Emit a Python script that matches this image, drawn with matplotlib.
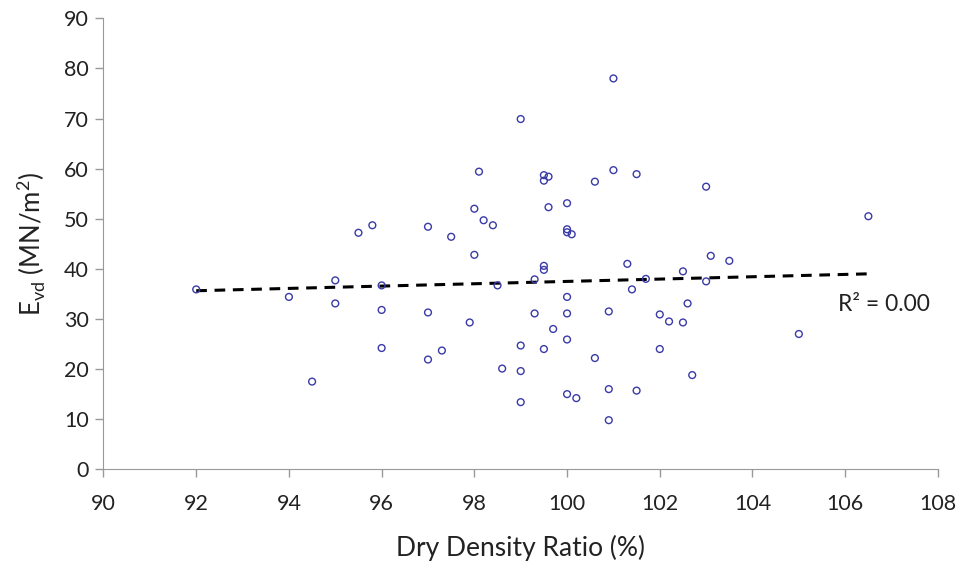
import numpy as np
import matplotlib
matplotlib.use("Agg")
from matplotlib import pyplot as plt

# Dry density ratio (%) and E_vd (MN/m2)
dry_density = [92.0, 94.0, 94.5, 95.0, 95.0, 95.5, 95.8, 96.0, 96.0, 96.0,
               97.0, 97.0, 97.0, 97.3, 97.5, 97.9, 98.0, 98.0, 98.1, 98.2,
               98.4, 98.5, 98.6, 99.0, 99.0, 99.0, 99.0, 99.3, 99.3, 101.0,
               99.5, 99.5, 99.6, 100.6, 101.0, 101.5, 103.0, 106.5, 100.0, 99.6,
               100.0, 100.0, 100.1, 103.1, 103.5, 101.3, 99.5, 99.5, 102.5, 101.7,
               103.0, 101.4, 100.0, 102.6, 100.0, 100.9, 102.0, 102.2, 102.5, 105.0,
               99.7, 100.0, 99.5, 102.0, 100.6, 102.7, 100.0, 100.2, 100.9, 101.5,
               100.9]
evd = [35.9, 34.4, 17.5, 37.7, 33.1, 47.2, 48.7, 36.7, 31.8, 24.2,
       48.4, 31.3, 21.9, 23.7, 46.4, 29.3, 52.0, 42.8, 59.4, 49.7,
       48.7, 36.7, 20.1, 69.9, 24.7, 19.6, 13.4, 31.1, 37.9, 78.0,
       58.7, 57.6, 58.4, 57.4, 59.7, 58.9, 56.4, 50.5, 53.1, 52.3,
       47.9, 47.3, 46.9, 42.6, 41.6, 41.0, 40.6, 39.8, 39.5, 38.0,
       37.5, 35.9, 34.4, 33.1, 31.1, 31.5, 30.9, 29.5, 29.3, 27.0,
       28.0, 25.9, 24.0, 24.0, 22.2, 18.8, 15.0, 14.2, 16.0, 15.7,
       9.8]
x_ticks = [90, 92, 94, 96, 98, 100, 102, 104, 106, 108]
y_ticks = [0, 10, 20, 30, 40, 50, 60, 70, 80, 90]

plt.rcParams['font.family'] = ['Lato', 'DejaVu Sans']

x = np.array(dry_density)
y = np.array(evd)
k, b = np.polyfit(x, y, 1)   # linear trendline
r2 = np.corrcoef(x, y)[0, 1] ** 2
xl = np.array([x.min(), x.max()])

fig = plt.figure(figsize=(9.6, 5.65), dpi=100)
ax = fig.add_axes([0.1078, 0.1694, 0.977 - 0.1078, 0.9676 - 0.1694])
ax.scatter(x, y, s=24, facecolors='none', edgecolors='#3a3aa8', linewidths=1.0, zorder=3)
ax.plot(xl, k * xl + b, color='black', lw=2.2, ls=(0, (3.5, 2.5)), zorder=2)
ax.text(105.85, 32.8, 'R² = {:.2f}'.format(r2), fontsize=16.5, color='#222222', va='center')

ax.set_xlim(90, 108)
ax.set_ylim(0, 90)
ax.set_xticks(x_ticks)
ax.set_yticks(y_ticks)
ax.tick_params(labelsize=15.5, colors='#222222', length=5.5, width=1, color='#999999')
ax.tick_params(axis='x', pad=12)
ax.tick_params(axis='y', pad=5)
for s in ['top', 'right']:
    ax.spines[s].set_visible(False)
for s in ['left', 'bottom']:
    ax.spines[s].set_color('#999999')
ax.set_xlabel('Dry Density Ratio (%)', fontsize=19, labelpad=15, color='#222222')
ax.set_ylabel('E$_\\mathregular{vd}$ (MN/m$^\\mathregular{2}$)', fontsize=18.5, labelpad=12, color='#222222')

plt.savefig('out.png', dpi=100)
